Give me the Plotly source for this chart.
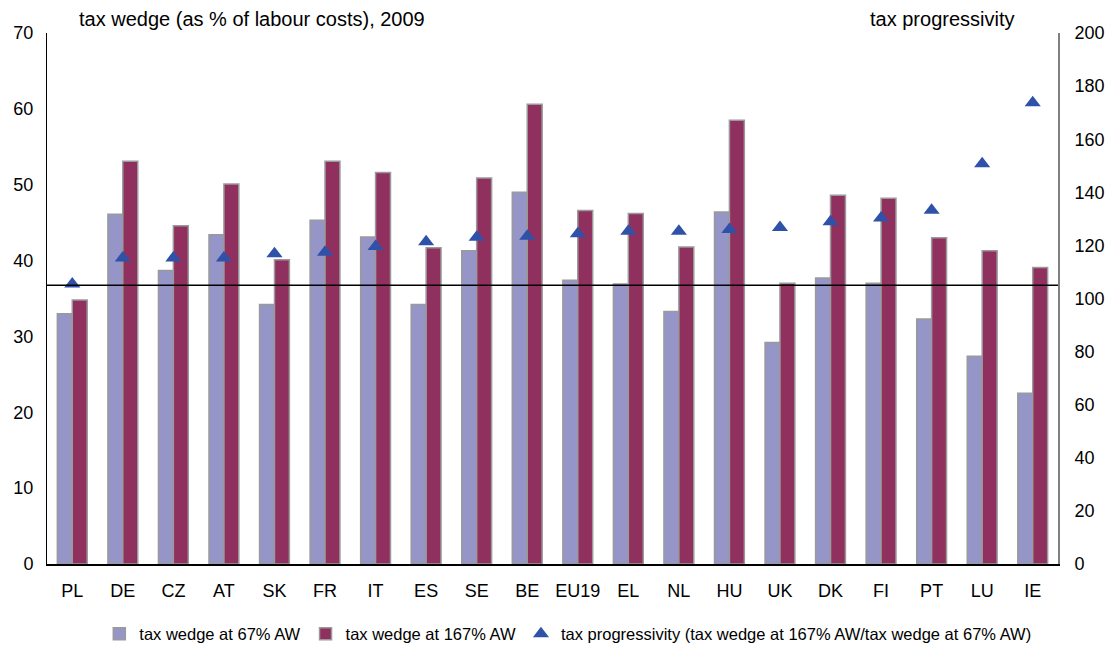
import plotly.graph_objects as go

countries = ["PL", "DE", "CZ", "AT", "SK", "FR", "IT", "ES", "SE", "BE",
             "EU19", "EL", "NL", "HU", "UK", "DK", "FI", "PT", "LU", "IE"]
wedge_67 = [33.0, 46.1, 38.7, 43.4, 34.2, 45.3, 43.1, 34.2, 41.3, 49.0,
            37.4, 36.9, 33.3, 46.4, 29.2, 37.7, 37.0, 32.3, 27.4, 22.5]
wedge_167 = [34.8, 53.1, 44.6, 50.1, 40.1, 53.1, 51.6, 41.7, 50.9, 60.6,
             46.6, 46.2, 41.8, 58.5, 37.0, 48.6, 48.2, 43.0, 41.3, 39.1]
progressivity = [105.5, 115.3, 115.3, 115.3, 116.9, 117.4, 119.6, 121.4, 123.1, 123.4,
                 124.4, 125.3, 125.3, 126.0, 126.7, 128.9, 130.3, 133.2, 150.8, 173.7]
ref_line = 105

FONT = "Liberation Sans, Arial, sans-serif"

fig = go.Figure()
fig.add_trace(go.Bar(
    x=countries, y=wedge_67, name="tax wedge at 67% AW",
    marker=dict(color="#9595C8", line=dict(color="#9a9a9a", width=1.5)),
))
fig.add_trace(go.Bar(
    x=countries, y=wedge_167, name="tax wedge at 167% AW",
    marker=dict(color="#8F305F", line=dict(color="#9a9a9a", width=1.5)),
))
fig.add_trace(go.Scatter(
    x=countries, y=progressivity, yaxis="y2", mode="markers",
    name="tax progressivity (tax wedge at 167% AW/tax wedge at 67% AW)",
    marker=dict(symbol="triangle-up", size=14, color="#2F52A8"),
))

fig.add_shape(type="line", xref="paper", x0=0, x1=1, yref="y2", y0=ref_line, y1=ref_line,
              line=dict(color="black", width=1.5), layer="above")

fig.update_layout(
    width=1109, height=647,
    margin=dict(l=47, r=51, t=33, b=83),
    paper_bgcolor="white", plot_bgcolor="white",
    font=dict(family=FONT, size=18, color="black"),
    barmode="group", bargap=0.41, bargroupgap=0,
    showlegend=True,
    legend=dict(orientation="h", xref="container", yref="container",
                x=0.512, xanchor="center", y=0.02, yanchor="middle",
                font=dict(size=16.5), tracegroupgap=0, itemwidth=30),
    xaxis=dict(range=[-0.5, len(countries) - 0.5], showline=True, linecolor="black",
               linewidth=1.5, ticks="", showgrid=False, tickfont=dict(size=18),
               ticklabelstandoff=10, automargin=False),
    yaxis=dict(range=[0, 70], dtick=10, showline=True, linecolor="black", linewidth=1,
               showgrid=False, zeroline=False, ticks="", tickfont=dict(size=18),
               ticklabelstandoff=9, automargin=False),
    yaxis2=dict(range=[0, 200], dtick=20, overlaying="y", side="right", showline=True,
                linecolor="#808080", linewidth=2, showgrid=False, zeroline=False,
                ticks="", tickfont=dict(size=18), ticklabelstandoff=11, automargin=False),
    annotations=[
        dict(text="tax wedge (as % of labour costs), 2009", xref="paper", yref="paper",
             x=0.03, y=1, xanchor="left", yanchor="middle", yshift=14, showarrow=False,
             font=dict(size=20)),
        dict(text="tax progressivity", xref="paper", yref="paper",
             x=0.959, y=1, xanchor="right", yanchor="middle", yshift=14, showarrow=False,
             font=dict(size=20)),
    ],
)

fig.write_html("out.html", config={"displayModeBar": False},
               post_script="document.body.style.margin='0';")
